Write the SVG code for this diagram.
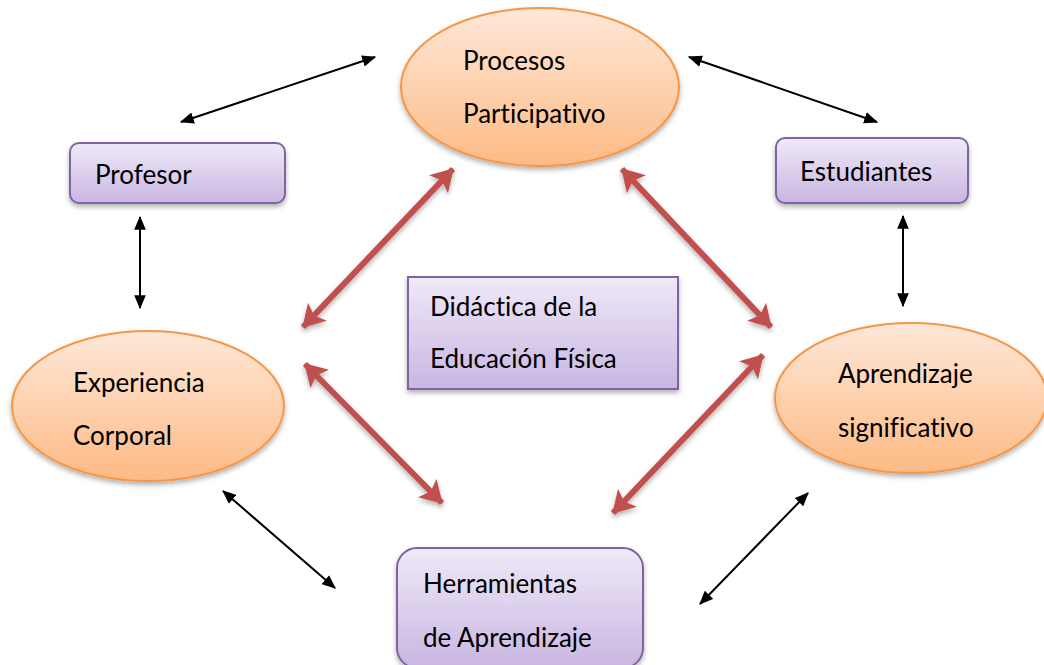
<svg xmlns="http://www.w3.org/2000/svg" width="1044" height="665" viewBox="0 0 1044 665">
<defs>
<linearGradient id="gOr" x1="0" y1="0" x2="0" y2="1">
<stop offset="0" stop-color="#FEE8D9"/><stop offset="1" stop-color="#FDBA84"/>
</linearGradient>
<linearGradient id="gPu" x1="0" y1="0" x2="0" y2="1">
<stop offset="0" stop-color="#EFE9F8"/><stop offset="1" stop-color="#C9B6E2"/>
</linearGradient>
<filter id="sh" x="-10%" y="-10%" width="120%" height="130%">
<feDropShadow dx="0" dy="3" stdDeviation="2.5" flood-color="#000" flood-opacity="0.3"/>
</filter>
<marker id="bk" viewBox="0 0 12 10" refX="11" refY="5" markerWidth="14" markerHeight="12" markerUnits="userSpaceOnUse" orient="auto-start-reverse">
<path d="M0,0 L12,5 L0,10 z" fill="#000"/>
</marker>
<marker id="rd" viewBox="0 0 22 26" refX="21" refY="13" markerWidth="22" markerHeight="26" markerUnits="userSpaceOnUse" orient="auto-start-reverse">
<path d="M0,0 L22,13 L0,26 L5,13 z" fill="#C0504D"/>
</marker>
</defs>
<style>
.ell{fill:url(#gOr);stroke:#F79646;stroke-width:2;filter:url(#sh)}
.box{fill:url(#gPu);stroke:#8064A2;stroke-width:2;filter:url(#sh)}
.t{font-family:Lato,"Liberation Sans",sans-serif;font-size:26px;fill:#000;font-variant-ligatures:none}
.ba{stroke:#000;stroke-width:2;fill:none;marker-start:url(#bk);marker-end:url(#bk)}
.ra{stroke:#C0504D;stroke-width:6;fill:none;marker-start:url(#rd);marker-end:url(#rd);filter:url(#sh)}
</style>
<rect width="1044" height="665" fill="#fff"/>
<g id="connectors">
<line class="ba" x1="181" y1="122" x2="375" y2="57"/>
<line class="ba" x1="689" y1="57" x2="877" y2="122"/>
<line class="ba" x1="140" y1="217" x2="140" y2="308"/>
<line class="ba" x1="903" y1="216" x2="903" y2="306"/>
<line class="ba" x1="223" y1="491" x2="335" y2="588"/>
<line class="ba" x1="700" y1="604" x2="808" y2="493"/>
<line class="ra" x1="303" y1="327" x2="453" y2="169"/>
<line class="ra" x1="622" y1="169" x2="771" y2="327"/>
<line class="ra" x1="305" y1="364" x2="442" y2="503"/>
<line class="ra" x1="613" y1="513" x2="763" y2="355"/>
</g>
<g id="procesos">
<ellipse class="ell" cx="540" cy="87" rx="139" ry="79"/>
<text class="t" x="463" y="70">Procesos</text>
<text class="t" x="463" y="123">Participativo</text>
</g>
<g id="profesor">
<rect class="box" x="70" y="143" width="215" height="60" rx="9"/>
<text class="t" x="95" y="184">Profesor</text>
</g>
<g id="estudiantes">
<rect class="box" x="776" y="138" width="192" height="65" rx="9"/>
<text class="t" x="800" y="181">Estudiantes</text>
</g>
<g id="didactica">
<rect class="box" x="408" y="277" width="270" height="112"/>
<text class="t" x="430" y="316">Didáctica de la</text>
<text class="t" x="430" y="368">Educación Física</text>
</g>
<g id="experiencia">
<ellipse class="ell" cx="148" cy="406" rx="136" ry="75"/>
<text class="t" x="73" y="392">Experiencia</text>
<text class="t" x="73" y="445">Corporal</text>
</g>
<g id="aprendizaje">
<ellipse class="ell" cx="911" cy="398" rx="136" ry="75"/>
<text class="t" x="838" y="383">Aprendizaje</text>
<text class="t" x="838" y="437">significativo</text>
</g>
<g id="herramientas">
<rect class="box" x="397" y="548" width="246" height="120" rx="20"/>
<text class="t" x="423" y="593">Herramientas</text>
<text class="t" x="423" y="647">de Aprendizaje</text>
</g>
</svg>
